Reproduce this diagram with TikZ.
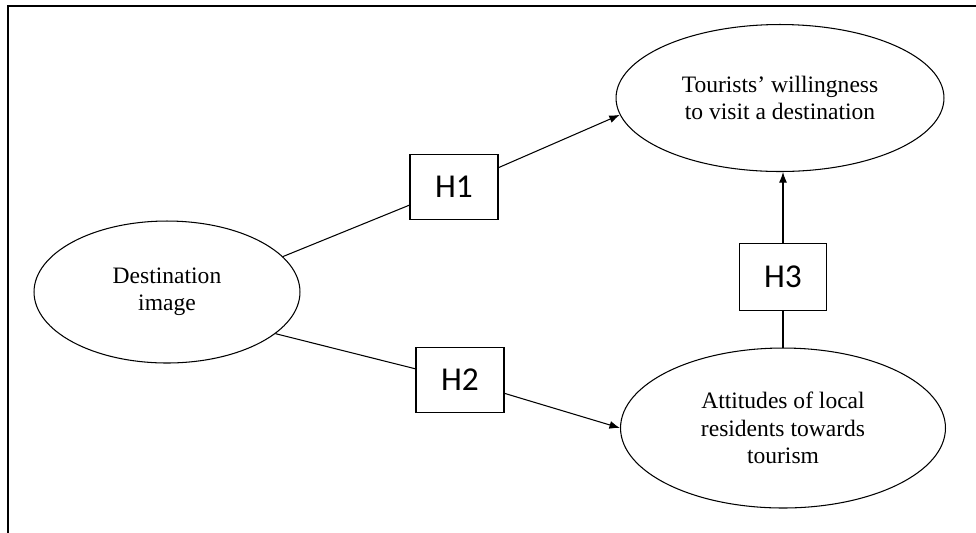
\documentclass[tikz,border=0pt]{standalone}
\usepackage{fontspec}
\setmainfont{Liberation Serif}
\newfontfamily\hypfont{Carlito}
\usepackage{tikz}
\usetikzlibrary{arrows.meta,shapes.geometric,positioning,calc}

\tikzset{
  construct/.style={draw,ellipse,line width=.6pt,inner sep=0pt,align=center,
    font=\fontsize{13.4}{15.5}\selectfont},
  hypbox/.style={draw,rectangle,line width=.7pt,minimum width=1.76cm,minimum height=1.3cm,
    font=\hypfont\fontsize{19}{22}\selectfont},
  link/.style={line width=.6pt},
  >={Latex[length=6pt,width=4.5pt]}
}

\begin{document}
\begin{tikzpicture}[x=.02cm,y=-.02cm]
      \useasboundingbox (0,0) rectangle (976,532);
      \draw[line width=1.5pt] (8,6) rectangle (1000,560);

      % constructs
      \node[construct,minimum width=5.32cm,minimum height=2.84cm] (dest) at (167,292) {Destination\\image};
      \node[construct,minimum width=6.56cm,minimum height=2.94cm] (tour) at (780,98) {Tourists’ willingness\\to visit a destination};
      \node[construct,minimum width=6.5cm,minimum height=3.2cm] (att) at (783,428) {Attitudes of local\\residents towards\\tourism};

      % hypotheses
      \node[hypbox] (h1) at (454,187) {H1};
      \node[hypbox] (h2) at (460,380) {H2};
      \node[hypbox,minimum width=1.74cm,minimum height=1.34cm] (h3) at (783,277) {H3};

      \draw[link] (dest.17) -- (h1);
      \draw[link,->] (h1) -- (tour.186);

      \draw[link] (dest.-21) -- (h2);
      \draw[link,->] (h2) -- (att.west);

      \draw[link] (att) -- (h3);
      \draw[link,->] (h3) -- (h3 |- tour.south);
    \end{tikzpicture}
\end{document}
